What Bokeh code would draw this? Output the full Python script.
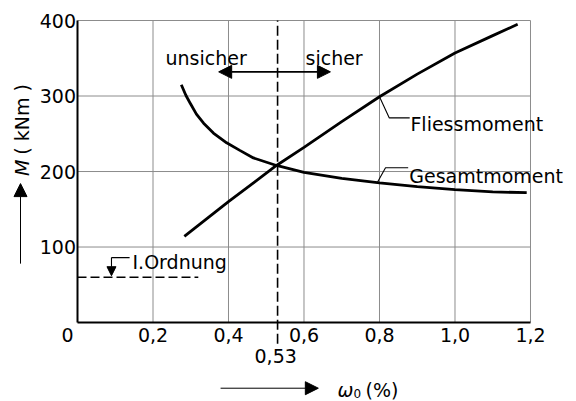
from bokeh.plotting import figure
from bokeh.models import Range1d, Label, Arrow, NormalHead
from bokeh.core.properties import value
from bokeh.embed import file_html
from bokeh.resources import INLINE

# ---- data ----
x_ticks = [0.2, 0.4, 0.6, 0.8, 1.0, 1.2]
x_tick_labels = ["0,2", "0,4", "0,6", "0,8", "1,0", "1,2"]
y_ticks = [100, 200, 300, 400]
y_tick_labels = ["100", "200", "300", "400"]
x_max = 1.2
y_max = 400

fliess_x = [0.283, 0.4, 0.527, 0.6, 0.7, 0.8, 0.9, 1.0, 1.1, 1.166]
fliess_y = [114, 160, 208, 232, 266, 299, 329, 357, 380, 395]

gesamt_x = [0.275, 0.287, 0.299, 0.315, 0.334, 0.36, 0.395, 0.43, 0.466, 0.527, 0.6, 0.7, 0.8, 0.9, 1.0, 1.1, 1.19]
gesamt_y = [315, 301, 290, 276, 264, 251, 238, 228, 218, 208, 199, 191, 185, 180, 176, 173, 172]

ordnung_x = [0.0, 0.32]
ordnung_y = [60, 60]

limit_x = 0.53
limit_label = "0,53"

FONT = "DejaVu Sans"
FS = "19px"
GRID = "#8c8c8c"

# The frame fills the whole canvas so that texts outside the plotting area
# (axis titles, tick labels) are not clipped; axes are drawn by hand.
p = figure(width=576, height=401, output_backend="svg", toolbar_location=None,
           x_range=Range1d(-0.204, 1.3219), y_range=Range1d(-104.6, 426.5),
           min_border_left=0, min_border_right=0, min_border_top=0, min_border_bottom=0)
p.axis.visible = False
p.grid.visible = False
p.outline_line_color = None
p.background_fill_color = "white"
p.border_fill_color = "white"

# grid
p.segment(x0=x_ticks, y0=[0] * len(x_ticks), x1=x_ticks, y1=[y_max] * len(x_ticks),
          line_color=GRID, line_width=1)
p.segment(x0=[0] * len(y_ticks), y0=y_ticks, x1=[x_max] * len(y_ticks), y1=y_ticks,
          line_color=GRID, line_width=1)
# axis lines
p.segment(x0=[0, 0], y0=[0, 0], x1=[0, x_max], y1=[y_max, 0], line_color="black", line_width=2)

# tick labels
p.text(x=x_ticks, y=[-16] * len(x_ticks), text=x_tick_labels, text_font=value(FONT),
       text_font_size=value(FS), text_align="center", text_baseline="middle", text_color="black")
p.text(x=[-0.004] * len(y_ticks), y=y_ticks, text=y_tick_labels, text_font=value(FONT),
       text_font_size=value(FS), text_align="right", text_baseline="middle", text_color="black")

# curves
p.line(fliess_x, fliess_y, line_color="black", line_width=2.8)
p.line(gesamt_x, gesamt_y, line_color="black", line_width=2.8)
p.line(ordnung_x, ordnung_y, line_color="black", line_width=1.6, line_dash="9 4")

# vertical limit line (extends below the axis)
p.line([limit_x, limit_x], [-28, y_max], line_color="black", line_width=1.6, line_dash="10 4")

# unsicher / sicher double arrow
p.add_layout(Arrow(x_start=0.374, y_start=332, x_end=0.67, y_end=332,
                   start=NormalHead(size=13, fill_color="black", line_color="black"),
                   end=NormalHead(size=13, fill_color="black", line_color="black"),
                   line_color="black", line_width=1.6))

def txt(x, y, s, align="left", base="alphabetic", size=FS, style="normal", angle=0):
    p.add_layout(Label(x=x, y=y, text=s, text_font=FONT, text_font_size=size,
                       text_align=align, text_baseline=base, text_font_style=style,
                       text_color="black", angle=angle))

txt(0.233, 350, "unsicher")
txt(0.604, 350, "sicher")

# leaders
p.line([0.8, 0.826, 0.88], [299, 271, 271], line_color="black", line_width=1.1)
txt(0.882, 263.5, "Fliessmoment")
p.line([0.795, 0.816, 0.876], [186, 205, 205], line_color="black", line_width=1.1)
txt(0.879, 194.5, "Gesamtmoment")

p.line([0.09, 0.138], [86, 86], line_color="black", line_width=1.1)
p.add_layout(Arrow(x_start=0.09, y_start=86, x_end=0.09, y_end=62,
                   end=NormalHead(size=9, fill_color="black", line_color="black"),
                   line_color="black", line_width=1.1))
txt(0.1457, 79.5, "I.Ordnung")

# corner zero and special tick label
txt(-0.0265, -16, "0", align="center", base="middle")
txt(0.525, -44, limit_label, align="center", base="middle")

# y axis title with arrow
txt(-0.148, 205, "M", align="center", base="middle", style="italic", angle=1.5708)
txt(-0.148, 269, "( kNm )", align="center", base="middle", angle=1.5708)
p.add_layout(Arrow(x_start=-0.151, y_start=78, x_end=-0.151, y_end=184,
                   end=NormalHead(size=13, fill_color="black", line_color="black"),
                   line_color="black", line_width=1))

# x axis title with arrow
p.add_layout(Arrow(x_start=0.379, y_start=-87, x_end=0.638, y_end=-87,
                   end=NormalHead(size=13, fill_color="black", line_color="black"),
                   line_color="black", line_width=1))
txt(0.689, -90, "ω", style="italic")
txt(0.731, -94.5, "0", size="12px")
txt(0.763, -90, "(%)")

open("out.html", "w").write(file_html(p, INLINE))
